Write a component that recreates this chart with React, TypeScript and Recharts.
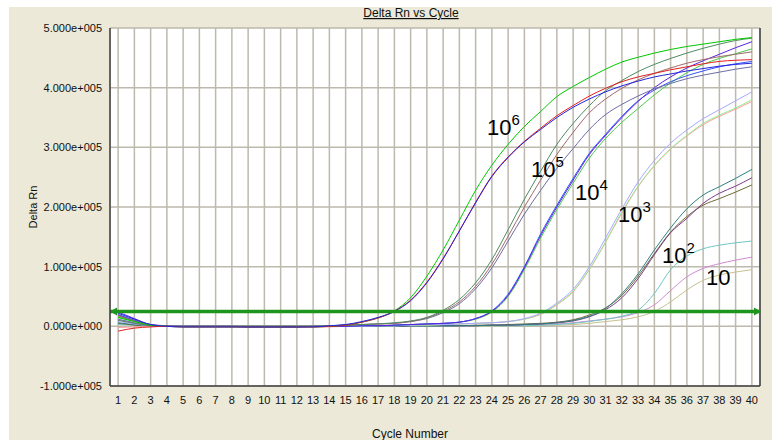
import { LineChart, Line, XAxis, YAxis, CartesianGrid, ReferenceLine } from 'recharts';

const cycles = Array.from({ length: 40 }, (_, i) => i + 1);
const yTicks = [-100000, 0, 100000, 200000, 300000, 400000, 500000];
const threshold = 25000;

// Delta Rn per cycle (thousands), one array per well
const e6Green = [15, 8, 2, 0, -1, -1, -1, -1, -1, -1, -1, -1, -1, 0, 2, 7, 14, 26, 48, 84, 128, 178, 228, 270, 305, 335, 360, 385, 402, 417, 431, 443, 451, 458, 464, 469, 473, 477, 481, 484];
const e6Red = [-8, -3, -1, 0, -1, -1, -1, -1, -1, -1, -1, -1, -1, 0, 2, 7, 14, 25, 44, 74, 114, 160, 208, 252, 284, 310, 332, 353, 370, 386, 399, 410, 418, 424, 430, 435, 440, 444, 446, 447];
const e6Blue = [22, 12, 3, 0, -1, -1, -1, -1, -1, -1, -1, -1, -1, 1, 3, 8, 15, 25, 43, 73, 113, 160, 207, 251, 283, 309, 330, 350, 367, 381, 393, 403, 411, 418, 423, 428, 432, 436, 439, 441];

const e5Green = [10, 5, 1, 0, 0, 0, 0, 0, 0, 0, 0, 0, 0, 1, 2, 3, 4, 6, 9, 15, 27, 45, 73, 112, 162, 213, 260, 305, 340, 370, 395, 412, 427, 439, 449, 458, 466, 473, 479, 483];
const e5Brown = [18, 9, 2, 0, 0, 0, 0, 0, 0, 0, 0, 0, 0, 1, 2, 3, 4, 5, 8, 14, 25, 41, 67, 104, 151, 200, 245, 288, 325, 358, 381, 399, 413, 424, 433, 441, 447, 452, 456, 460];
const e5Slate = [12, 6, 1, 0, 0, 0, 0, 0, 0, 0, 0, 0, 0, 1, 2, 3, 4, 5, 8, 13, 23, 38, 63, 98, 143, 188, 228, 265, 298, 330, 355, 372, 386, 398, 407, 415, 421, 426, 431, 435];

const e4Violet = [24, 13, 3, 1, 0, 0, 0, 0, -1, -1, -1, -1, 0, 0, 0, 1, 1, 2, 3, 4, 5, 7, 13, 25, 52, 98, 152, 200, 245, 288, 320, 350, 377, 400, 418, 433, 445, 456, 467, 477];
const e4Green = [16, 10, 3, 0, 0, 0, 0, 0, 0, 0, 0, 0, 0, 0, 0, 1, 1, 2, 3, 4, 5, 7, 12, 24, 50, 95, 148, 196, 240, 282, 315, 342, 365, 388, 408, 425, 439, 449, 457, 465];
const e4Blue = [20, 10, 2, 0, 0, 0, 0, 0, -1, -1, -1, -1, 0, 0, 0, 1, 1, 2, 3, 4, 5, 7, 13, 26, 54, 100, 155, 203, 248, 290, 322, 352, 378, 396, 410, 420, 428, 435, 440, 444];

const e3Lavender = [8, 4, 1, 0, 0, 0, 0, 0, 0, 0, 0, 0, 0, 0, 0, 0, 1, 1, 2, 3, 3, 4, 5, 6, 8, 13, 22, 39, 62, 100, 148, 197, 242, 278, 307, 329, 348, 363, 378, 393];
const e3Green = [14, 8, 2, 0, 0, 0, 0, 0, 0, 0, 0, 0, 0, 0, 0, 0, 1, 1, 2, 2, 3, 4, 5, 6, 8, 12, 21, 37, 59, 96, 142, 192, 235, 270, 298, 320, 340, 354, 366, 380];
const e3Salmon = [-2, -1, 0, 0, 0, 0, 0, 0, 0, 0, 0, 0, -1, -1, 0, 0, 1, 1, 2, 2, 3, 4, 5, 6, 8, 12, 20, 36, 58, 95, 141, 190, 234, 269, 297, 319, 338, 352, 364, 377];

const e2Teal = [6, 3, 1, 0, 0, 0, 0, 0, 0, 0, 0, 0, 0, 0, 0, 0, 0, 0, 1, 1, 1, 1, 1, 2, 2, 3, 4, 6, 10, 17, 30, 55, 88, 128, 165, 197, 220, 234, 248, 263];
const e2Purple = [19, 10, 2, 0, 0, 0, 0, 0, 0, 0, 0, 0, 0, 0, 0, 0, 0, 0, 1, 1, 1, 1, 1, 2, 2, 3, 4, 6, 9, 16, 28, 48, 80, 120, 157, 181, 206, 223, 235, 249];
const e2Olive = [5, 2, 0, 0, 0, 0, 0, 0, 0, 0, 0, 0, 0, 0, 0, 0, 0, 0, 1, 1, 1, 1, 2, 2, 3, 4, 5, 7, 11, 19, 31, 52, 84, 122, 158, 184, 203, 214, 225, 237];

const e1Cyan = [3, 2, 0, 0, 0, 0, 0, 0, 0, 0, 0, 0, 0, 0, 0, 0, 0, 0, 0, 0, 0, 1, 1, 1, 1, 1, 2, 3, 5, 8, 12, 17, 27, 55, 95, 118, 130, 136, 140, 143];
const e1Magenta = [11, 6, 1, 0, 0, 0, 0, 0, 0, 0, 0, 0, 0, 0, 0, 0, 0, 0, 0, 1, 1, 1, 1, 2, 2, 2, 3, 4, 6, 9, 12, 16, 23, 36, 60, 83, 97, 105, 111, 116];
const e1Khaki = [17, 9, 2, 0, 0, 0, 0, 0, 0, 0, 0, 0, 0, 0, 0, 0, 0, 0, 0, 0, 0, 0, 0, 0, 1, 1, 1, 2, 3, 5, 8, 11, 16, 25, 41, 61, 77, 86, 91, 95];

const series = [
  { key: 'e1Khaki', color: '#c8c08e', values: e1Khaki },
  { key: 'e1Magenta', color: '#d08ad0', values: e1Magenta },
  { key: 'e1Cyan', color: '#72c6c6', values: e1Cyan },
  { key: 'e2Olive', color: '#6e6a34', values: e2Olive },
  { key: 'e2Purple', color: '#7c3c8c', values: e2Purple },
  { key: 'e2Teal', color: '#2f8080', values: e2Teal },
  { key: 'e3Salmon', color: '#ff9c9c', values: e3Salmon },
  { key: 'e3Green', color: '#96ee96', values: e3Green },
  { key: 'e3Lavender', color: '#a8a8ff', values: e3Lavender },
  { key: 'e4Green', color: '#4ccc4c', values: e4Green },
  { key: 'e4Blue', color: '#3454ff', values: e4Blue },
  { key: 'e4Violet', color: '#5a24e0', values: e4Violet },
  { key: 'e5Slate', color: '#6c6ca8', values: e5Slate },
  { key: 'e5Brown', color: '#a06a6a', values: e5Brown },
  { key: 'e5Green', color: '#4f8c60', values: e5Green },
  { key: 'e6Green', color: '#00c800', values: e6Green },
  { key: 'e6Red', color: '#e02020', values: e6Red },
  { key: 'e6Blue', color: '#2424e0', values: e6Blue },
];

const rows = cycles.map((c, i) => {
  const row: any = { cycle: c };
  series.forEach((s) => {
    row[s.key] = s.values[i] * 1000;
  });
  return row;
});

const fmtY = (v: number) => {
  if (v === 0) return '0.000e+000';
  return (v < 0 ? '-' : '') + (Math.abs(v) / 100000).toFixed(3) + 'e+005';
};

const FONT = '"Liberation Sans", Arial, sans-serif';

function ThresholdLine(props: any) {
  const { x1, y1, x2, y2 } = props;
  const c = '#1e961e';
  return (
    <g>
      <line x1={x1} y1={y1} x2={x2} y2={y2} stroke={c} strokeWidth={3.5} />
      <polygon points={`${x1},${y1} ${x1 + 7},${y1 - 4} ${x1 + 7},${y1 + 4}`} fill={c} />
      <polygon points={`${x2 + 1},${y2} ${x2 - 6},${y2 - 4} ${x2 - 6},${y2 + 4}`} fill={c} />
    </g>
  );
}

// dilution labels: [x, baseline, exponent]
const dilutions: [number, number, string][] = [
  [487, 135, '6'],
  [531, 177, '5'],
  [575, 200, '4'],
  [618, 222, '3'],
  [662, 263, '2'],
  [706, 285, ''],
];

export default function App() {
  return (
    <div style={{ position: 'absolute', left: 0, top: 0, width: 776, height: 440, background: '#fff', fontFamily: FONT }}>
      <div style={{ position: 'absolute', left: 9, top: 7, width: 763, height: 433, background: '#ece9d8' }} />
      <div style={{ position: 'absolute', left: 0, top: 0 }}>
        <LineChart width={776} height={440} data={rows} margin={{ top: 28, right: 16, bottom: 24, left: 0 }}>
          <CartesianGrid stroke="#bdb9ad" strokeWidth={1.5} fill="#ffffff" verticalPoints={undefined} />
          <XAxis
            dataKey="cycle"
            type="number"
            domain={[0.5, 40.5]}
            ticks={cycles}
            interval={0}
            height={30}
            tickLine={false}
            tickSize={6}
            tickMargin={4}
            axisLine={{ stroke: '#404040', strokeWidth: 1.5 }}
            tick={{ fontSize: 11, fill: '#111', fontFamily: FONT }}
          />
          <YAxis
            type="number"
            domain={[-100000, 500000]}
            ticks={yTicks}
            width={110}
            interval={0}
            tickLine={false}
            tickFormatter={fmtY}
            axisLine={{ stroke: '#404040', strokeWidth: 1.5 }}
            tick={{ fontSize: 11, fill: '#111', fontFamily: FONT }}
            allowDataOverflow
          />
          <ReferenceLine x={40.5} stroke="#404040" strokeWidth={1.5} />
          {series.map((s) => (
            <Line
              key={s.key}
              dataKey={s.key}
              type="monotone"
              stroke={s.color}
              strokeWidth={1}
              dot={false}
              isAnimationActive={false}
            />
          ))}
          <ReferenceLine y={threshold} shape={ThresholdLine} />
        </LineChart>
      </div>
      <svg width={776} height={440} style={{ position: 'absolute', left: 0, top: 0, pointerEvents: 'none' }} fontFamily={FONT}>
        <text x={411} y={17} fontSize={12} textAnchor="middle" fill="#111" textDecoration="underline">
          Delta Rn vs Cycle
        </text>
        <text x={410} y={438} fontSize={12} textAnchor="middle" fill="#111">
          Cycle Number
        </text>
        <text x={37} y={207} fontSize={11} textAnchor="middle" fill="#111" transform="rotate(-90 37 207)">
          Delta Rn
        </text>
        {dilutions.map(([x, y, e]) => (
          <text key={x} x={x} y={y} fontSize={22} fill="#000">
            10
            {e && (
              <tspan dy={-10} fontSize={15}>
                {e}
              </tspan>
            )}
          </text>
        ))}
      </svg>
    </div>
  );
}
